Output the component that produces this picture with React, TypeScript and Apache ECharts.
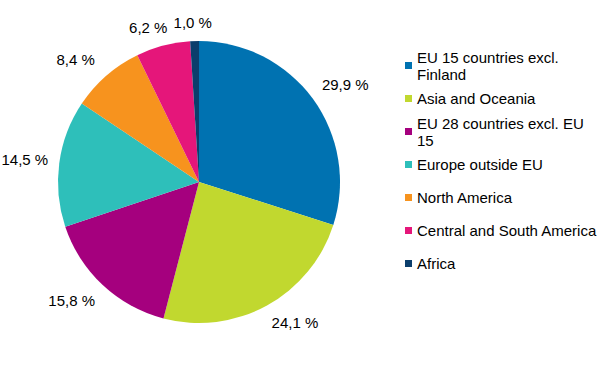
import React, { useEffect, useRef } from "react";
import * as echarts from "echarts";

const categories = [
  "EU 15 countries excl. Finland",
  "Asia and Oceania",
  "EU 28 countries excl. EU 15",
  "Europe outside EU",
  "North America",
  "Central and South America",
  "Africa",
];
const legendLabels = [
  "EU 15 countries excl.\nFinland",
  "Asia and Oceania",
  "EU 28 countries excl. EU\n15",
  "Europe outside EU",
  "North America",
  "Central and South America",
  "Africa",
];
const values = [29.9, 24.1, 15.8, 14.5, 8.4, 6.2, 1.0];
const colors = ["#0072b1", "#c1d82f", "#a5007e", "#2ebfba", "#f7931e", "#e5167a", "#0b3e6c"];

const FONT = "'Liberation Sans', Arial, sans-serif";
const CX = 199;
const CY = 182;
const R = 141;

export default function App() {
  const ref = useRef<HTMLDivElement>(null);
  useEffect(() => {
    document.body.style.margin = "0";
    const chart = echarts.init(ref.current!, null, { renderer: "svg" });
    const total = values.reduce((a, b) => a + b, 0);
    const cums: number[] = [];
    let acc = 0;
    values.forEach((v) => {
      cums.push(acc);
      acc += v;
    });
    const clamp = (v: number) => Math.max(-1, Math.min(1, v));
    const legends = categories.map((n, i) => {
      const twoLine = legendLabels[i].includes("\n");
      const y = 65.5 + i * 33;
      return {
        data: [n],
        left: 405,
        top: twoLine ? y - 25.5 : y - 8.5,
        orient: "vertical",
        icon: "rect",
        itemWidth: 7,
        itemHeight: 7,
        itemGap: 0,
        padding: 0,
        selectedMode: false,
        formatter: () => legendLabels[i],
        textStyle: {
          fontSize: 15,
          fontFamily: FONT,
          color: "#000",
          lineHeight: 17,
          padding: twoLine ? [17, 0, 0, 0] : 0,
        },
      };
    });
    chart.setOption({
      animation: false,
      color: colors,
      legend: legends,
      series: [
        {
          type: "pie",
          center: [CX, CY],
          radius: R,
          startAngle: 90,
          clockwise: true,
          itemStyle: { borderWidth: 0 },
          label: {
            show: true,
            position: "outside",
            fontSize: 15,
            fontFamily: FONT,
            color: "#000",
            width: 60,
            overflow: "none",
            formatter: (p: any) => p.value.toFixed(1).replace(".", ",") + " %",
          },
          labelLine: { show: false, length: 0, length2: 0 },
          labelLayout: (p: any) => {
            const i = p.dataIndex;
            const mid = (2 * Math.PI * (cums[i] + values[i] / 2)) / total;
            const dx = Math.sin(mid);
            const dy = -Math.cos(mid);
            const w = 47;
            const h = p.labelRect.height;
            const g = R + 11;
            const px = CX + dx * g;
            const py = CY + dy * g;
            return {
              x: px + (w / 2) * clamp(dx * 2),
              y: py + (h / 2) * clamp(dy * 2),
              align: "center",
              verticalAlign: "middle",
            };
          },
          data: categories.map((n, i) => ({ name: n, value: values[i] })),
        },
      ],
    });
    return () => chart.dispose();
  }, []);
  return <div ref={ref} style={{ width: 612, height: 365 }} />;
}
